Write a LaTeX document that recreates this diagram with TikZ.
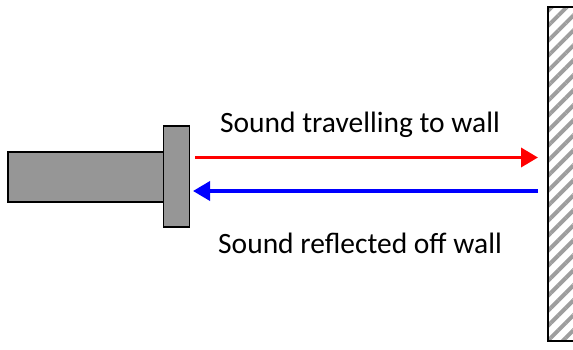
\documentclass[tikz,border=0pt]{standalone}
\usepackage{fontspec}
\setmainfont{Carlito}
\usetikzlibrary{arrows.meta,patterns.meta}
\begin{document}
\begin{tikzpicture}[x=1pt,y=1pt,
  part/.style={draw=black,line width=1.6pt,fill=black!41},
  wallbox/.style={draw=black,line width=1.6pt,
    pattern={Lines[angle=45,distance=10.6pt,line width=4pt]},pattern color=black!38},
  ray/.style={line width=3.6pt,-{Triangle[length=17pt,width=19pt]}},
  caption/.style={font=\fontsize{29.5}{34}\selectfont,inner sep=0pt}]
\useasboundingbox (0,0) rectangle (573,349);
\begin{scope}
\clip (0,0) rectangle (573,349);
% hatched wall, running off the right edge
\node[wallbox,minimum width=40pt,minimum height=334pt,anchor=south west,inner sep=0pt] (wall) at (546,6) {};
\end{scope}
% rod and its end plate
\node[part,minimum width=156pt,minimum height=50pt,anchor=south west,inner sep=0pt] (rod) at (7,146.5) {};
\node[part,minimum width=26pt,minimum height=101pt,anchor=south west,inner sep=0pt] (plate) at (162.5,121) {};
% sound path
\coordinate (outstart) at (195,191.5);
\coordinate (outend) at (538,191.5);
\coordinate (backstart) at (538,158);
\coordinate (backend) at (193,158);
\draw[ray,red] (outstart) -- (outend);
\draw[ray,blue] (backstart) -- (backend);
\node[caption] (t1) at (360,224) {Sound travelling to wall};
\node[caption] (t2) at (360,106) {Sound reflected off wall};
\end{tikzpicture}
\end{document}
